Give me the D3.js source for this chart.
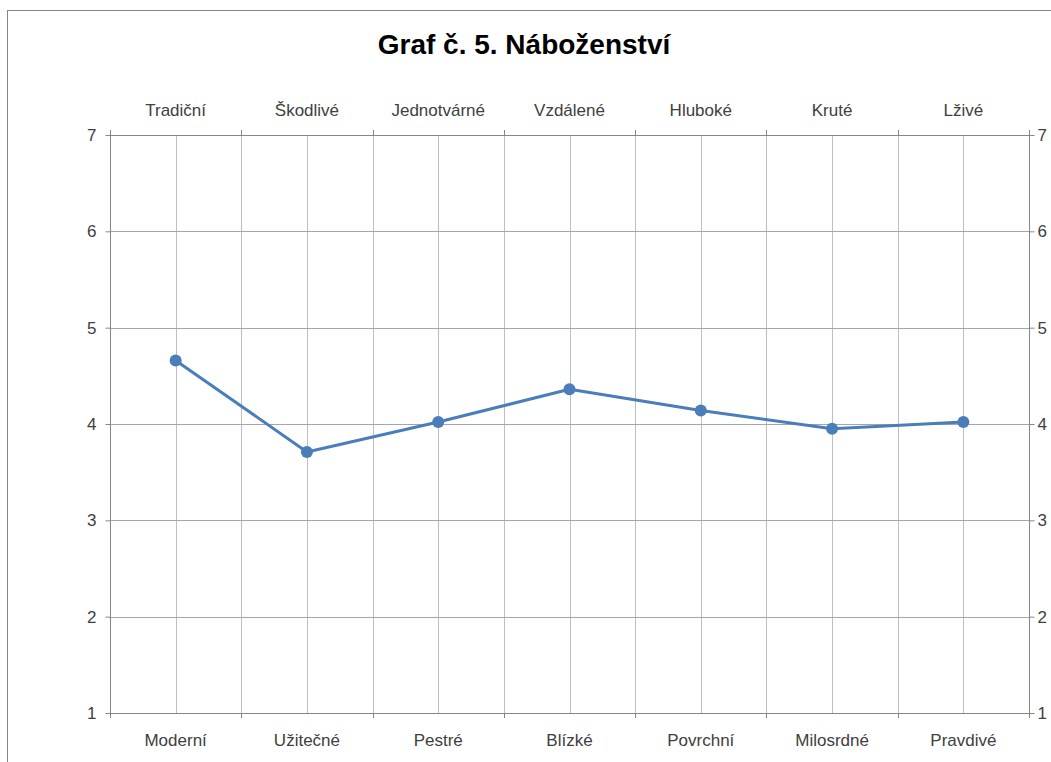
<!DOCTYPE html>
<meta charset="utf-8">
<style>
body { margin: 0; background: #fff; }
text { font-family: "Liberation Sans", Arial, sans-serif; }
.grid line { stroke: #bfbfbf; stroke-width: 1; }
.hgrid line { stroke: #a6a6a6; stroke-width: 1; }
.axis path, .axis line { stroke: #868686; }
.axis text { fill: #404040; font-size: 17px; }
</style>
<body>
<svg width="1051" height="762"></svg>
<script src="https://cdn.jsdelivr.net/npm/d3@7/dist/d3.min.js"></script>
<script>
var bottomLabels = ["Moderní", "Užitečné", "Pestré", "Blízké", "Povrchní", "Milosrdné", "Pravdivé"];
var topLabels = ["Tradiční", "Škodlivé", "Jednotvárné", "Vzdálené", "Hluboké", "Kruté", "Lživé"];
var values = [4.66, 3.71, 4.02, 4.36, 4.14, 3.95, 4.02];
var yTicks = [1, 2, 3, 4, 5, 6, 7];

var svg = d3.select("svg");
// plot area edges (window.top is reserved, so prefixed names)
var plotL = 110, plotR = 1029, plotT = 135, plotB = 713;

// outer chart frame
svg.append("rect")
    .attr("x", 7.5).attr("y", 10.5)
    .attr("width", 1100).attr("height", 800)
    .attr("fill", "none").attr("stroke", "#868686");

svg.append("text")
    .attr("x", 524).attr("y", 54)
    .attr("text-anchor", "middle")
    .style("font-size", "28px").style("font-weight", "bold")
    .text("Graf č. 5. Náboženství");

var x = d3.scaleBand().domain(bottomLabels).range([plotL, plotR]);
var xTop = d3.scaleBand().domain(topLabels).range([plotL, plotR]);
var y = d3.scaleLinear().domain([1, 7]).range([plotB, plotT]);
var bw = x.bandwidth();

// vertical gridlines: category centres and boundaries
var vlines = bottomLabels.map(function(d) { return x(d) + bw / 2; })
    .concat(bottomLabels.slice(1).map(function(d) { return x(d); }));
svg.append("g").attr("class", "grid")
  .selectAll("line").data(vlines).enter().append("line")
    .attr("x1", function(d) { return Math.round(d) + 0.5; })
    .attr("x2", function(d) { return Math.round(d) + 0.5; })
    .attr("y1", plotT).attr("y2", plotB);

// horizontal gridlines
svg.append("g").attr("class", "hgrid")
  .selectAll("line").data(yTicks.slice(1)).enter().append("line")
    .attr("x1", plotL).attr("x2", plotR)
    .attr("y1", function(d) { return Math.round(y(d)) + 0.5; })
    .attr("y2", function(d) { return Math.round(y(d)) + 0.5; });

// category boundary ticks (top and bottom)
var bounds = bottomLabels.map(function(d) { return x(d); }).concat([plotR]);
svg.append("g").attr("class", "axis")
  .selectAll("line").data(bounds).enter().append("line")
    .attr("x1", function(d) { return Math.round(d) + 0.5; })
    .attr("x2", function(d) { return Math.round(d) + 0.5; })
    .attr("y1", plotB).attr("y2", plotB + 5);
svg.append("g").attr("class", "axis")
  .selectAll("line").data(bounds).enter().append("line")
    .attr("x1", function(d) { return Math.round(d) + 0.5; })
    .attr("x2", function(d) { return Math.round(d) + 0.5; })
    .attr("y1", plotT - 5).attr("y2", plotT);

svg.append("g").attr("class", "axis")
    .attr("transform", "translate(0," + (plotB + 0.5) + ")")
    .call(d3.axisBottom(x).tickSize(0).tickPadding(20))
    .call(function(g) { g.select(".domain").attr("d", "M" + plotL + ",0H" + plotR); });

svg.append("g").attr("class", "axis")
    .attr("transform", "translate(0," + (plotT + 0.5) + ")")
    .call(d3.axisTop(xTop).tickSize(0).tickPadding(20))
    .call(function(g) { g.select(".domain").attr("d", "M" + plotL + ",0H" + plotR); });

svg.append("g").attr("class", "axis")
    .attr("transform", "translate(" + (plotL + 0.5) + ",0)")
    .call(d3.axisLeft(y).tickValues(yTicks).tickSize(5).tickPadding(9).tickFormat(d3.format("d")))
    .call(function(g) { g.select(".domain").attr("d", "M0," + plotT + "V" + plotB); });

svg.append("g").attr("class", "axis")
    .attr("transform", "translate(" + (plotR + 0.5) + ",0)")
    .call(d3.axisRight(y).tickValues(yTicks).tickSize(5).tickPadding(3).tickFormat(d3.format("d")))
    .call(function(g) { g.select(".domain").attr("d", "M0," + plotT + "V" + plotB); });

// series
var line = d3.line()
    .x(function(d, i) { return x(bottomLabels[i]) + bw / 2; })
    .y(function(d) { return y(d); });

svg.append("path")
    .datum(values)
    .attr("d", line)
    .attr("fill", "none")
    .attr("stroke", "#4a7ebb")
    .attr("stroke-width", 3)
    .attr("stroke-linejoin", "round");

svg.append("g")
  .selectAll("circle").data(values).enter().append("circle")
    .attr("cx", function(d, i) { return x(bottomLabels[i]) + bw / 2; })
    .attr("cy", function(d) { return y(d); })
    .attr("r", 6)
    .attr("fill", "#4a7ebb");
</script>
</body>
